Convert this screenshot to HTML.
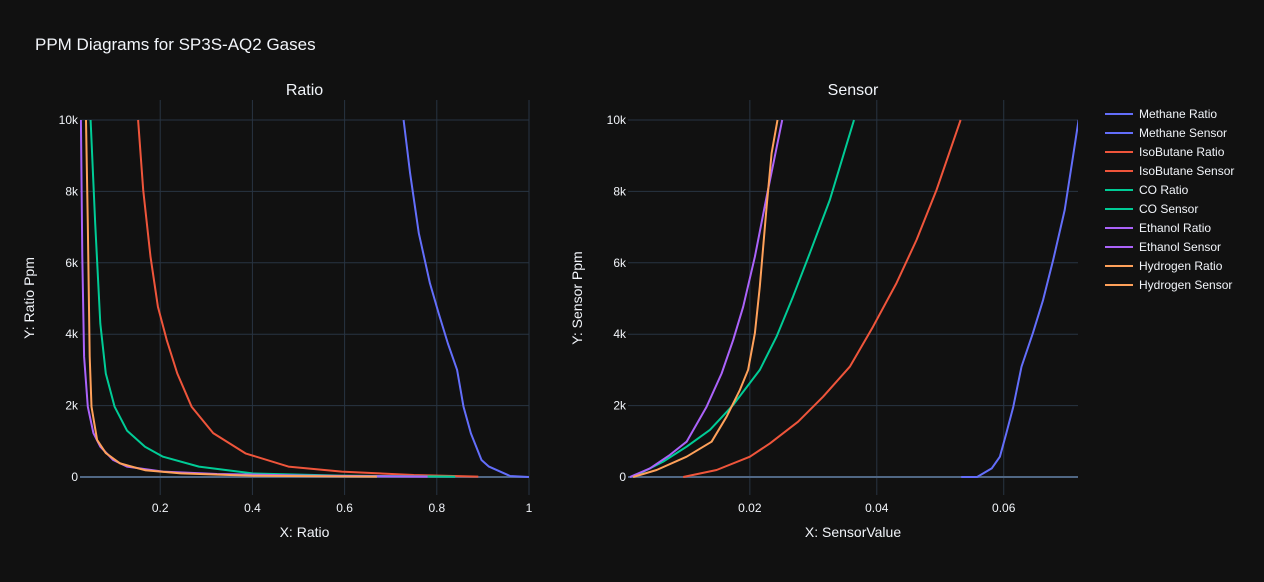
<!DOCTYPE html>
<html><head><meta charset="utf-8"><style>
body{margin:0;background:#111111;font-family:"Liberation Sans",sans-serif;}
svg text{font-family:"Liberation Sans",sans-serif;fill:#f2f5fa;}
</style></head><body>
<svg id="chart" width="1264" height="577" viewBox="0 0 1264 577" xmlns="http://www.w3.org/2000/svg">
<rect width="1264" height="577" fill="#111111"/>
<text x="35" y="50" font-size="17">PPM Diagrams for SP3S-AQ2 Gases</text>
<g id="p1"></g><g id="p2"></g><g id="legend"></g>
</svg>
<script>
const gases = ["Methane","IsoButane","CO","Ethanol","Hydrogen"];
const colors = ["#636efa","#EF553B","#00cc96","#ab63fa","#FFA15A"];
const yTicks = [0,2000,4000,6000,8000,10000];
const yTickLabels = ["0","2k","4k","6k","8k","10k"];
const x1Ticks = [0.2,0.4,0.6,0.8,1];
const x1TickLabels = ["0.2","0.4","0.6","0.8","1"];
const x2Ticks = [0.02,0.04,0.06];
const x2TickLabels = ["0.02","0.04","0.06"];
// Ratio curves
const methaneRatioX = [0.728,0.742,0.761,0.785,0.804,0.824,0.844,0.858,0.874,0.897,0.913,0.959,1.0];
const methaneRatioY = [10000,8510,6830,5430,4590,3740,3000,1970,1220,476,290,28,0];
const isoRatioX = [0.152,0.163,0.179,0.195,0.214,0.237,0.268,0.315,0.385,0.478,0.594,0.75,0.89];
const isoRatioY = [10000,8040,6170,4770,3840,2900,1970,1230,660,290,150,56,10];
const coRatioX = [0.049,0.059,0.070,0.082,0.101,0.128,0.167,0.206,0.284,0.40,0.59,0.84];
const coRatioY = [10000,7100,4300,2900,1970,1300,850,570,290,100,38,10];
const ethRatioX = [0.028,0.031,0.035,0.043,0.055,0.070,0.098,0.128,0.206,0.323,0.517,0.78];
const ethRatioY = [10000,6170,3370,1970,1230,850,476,290,150,84,38,10];
const h2RatioX = [0.039,0.043,0.047,0.051,0.063,0.082,0.113,0.167,0.245,0.40,0.67];
const h2RatioY = [10000,7100,3370,1970,1040,670,380,190,100,35,10];
// Sensor curves
const methaneSensorX = [0.0533,0.0558,0.0581,0.0594,0.0604,0.0615,0.0628,0.0646,0.0662,0.0678,0.0696,0.0709,0.0718];
const methaneSensorY = [0,0,240,570,1220,1970,3090,4030,4960,6080,7480,8960,10000];
const isoSensorX = [0.0095,0.01476,0.02,0.02315,0.0276,0.03154,0.03575,0.0394,0.0431,0.04625,0.0494,0.0532];
const isoSensorY = [0,196,570,940,1550,2250,3090,4210,5430,6640,8040,10000];
const coSensorX = [0.0016,0.00635,0.01003,0.0137,0.01737,0.02157,0.0242,0.0268,0.02945,0.0326,0.0364];
const coSensorY = [0,430,850,1320,2020,3000,3930,5050,6270,7760,10000];
const ethSensorX = [0.0011,0.00425,0.0074,0.01003,0.01318,0.01554,0.01737,0.01895,0.02079,0.02263,0.02509];
const ethSensorY = [0,240,620,990,1970,2900,3840,4770,6170,7850,10000];
const h2SensorX = [0.0016,0.0053,0.01003,0.01397,0.01633,0.01843,0.01973,0.02079,0.02157,0.02263,0.02342,0.02436];
const h2SensorY = [0,196,570,990,1690,2440,3000,4030,5330,7570,9070,10000];

const NS="http://www.w3.org/2000/svg";
function mk(tag,attrs,parent){const e=document.createElementNS(NS,tag);for(const k in attrs)e.setAttribute(k,attrs[k]);parent.appendChild(e);return e;}
const Y0=477,Y10=120;
function yS(v){return Y0+(Y10-Y0)*v/10000;}
function drawPanel(g,L,R,xmin,xmax,xt,xtl,title,xlab,ylab,series,cid){
  const xS=v=>L+(v-xmin)/(xmax-xmin)*(R-L);
  const T=100,B=495;
  const cp=mk('clipPath',{id:cid},g);mk('rect',{x:L,y:T,width:R-L,height:B-T},cp);
  xt.forEach((t,i)=>{const x=xS(t);const l=mk('line',{x1:x,x2:x,y1:T,y2:B,stroke:'#283442','stroke-width':1},g);
    
    const tx=mk('text',{x:x,y:512,'font-size':12,'text-anchor':'middle'},g);tx.textContent=xtl[i];
    });
  yTicks.forEach((t,i)=>{const y=yS(t);const l=mk('line',{x1:L,x2:R,y1:y,y2:y,stroke:t===0?'#506784':'#283442','stroke-width':t===0?2:1},g);
    
    const tx=mk('text',{x:L-2,y:y+4,'font-size':12,'text-anchor':'end'},g);tx.textContent=yTickLabels[i];
    });
  const tt=mk('text',{x:(L+R)/2,y:95,'font-size':16,'text-anchor':'middle'},g);tt.textContent=title;
  
  const xl=mk('text',{x:(L+R)/2,y:537,'font-size':14,'text-anchor':'middle'},g);xl.textContent=xlab;
  
  const yl=mk('text',{x:0,y:0,'font-size':14,'text-anchor':'middle',transform:`translate(${L-46},298) rotate(-90)`},g);yl.textContent=ylab;
  
  const sg=mk('g',{'clip-path':`url(#${cid})`},g);
  series.forEach(s=>{const d=s.x.map((v,i)=>(i?'L':'M')+xS(v).toFixed(1)+','+yS(s.y[i]).toFixed(1)).join('');
    const p=mk('path',{d:d,fill:'none',stroke:s.c,'stroke-width':2,'stroke-linejoin':'round'},sg);
    });
}
drawPanel(document.getElementById('p1'),80,529,0.026,1.0,x1Ticks,x1TickLabels,'Ratio','X: Ratio','Y: Ratio Ppm',[
 {x:methaneRatioX,y:methaneRatioY,c:colors[0],n:'methane-ratio-line'},
 {x:isoRatioX,y:isoRatioY,c:colors[1],n:'isobutane-ratio-line'},
 {x:coRatioX,y:coRatioY,c:colors[2],n:'co-ratio-line'},
 {x:ethRatioX,y:ethRatioY,c:colors[3],n:'ethanol-ratio-line'},
 {x:h2RatioX,y:h2RatioY,c:colors[4],n:'hydrogen-ratio-line'}],'c1');
drawPanel(document.getElementById('p2'),628,1078,0.0008,0.0717,x2Ticks,x2TickLabels,'Sensor','X: SensorValue','Y: Sensor Ppm',[
 {x:methaneSensorX,y:methaneSensorY,c:colors[0],n:'methane-sensor-line'},
 {x:isoSensorX,y:isoSensorY,c:colors[1],n:'isobutane-sensor-line'},
 {x:coSensorX,y:coSensorY,c:colors[2],n:'co-sensor-line'},
 {x:ethSensorX,y:ethSensorY,c:colors[3],n:'ethanol-sensor-line'},
 {x:h2SensorX,y:h2SensorY,c:colors[4],n:'hydrogen-sensor-line'}],'c2');
const lg=document.getElementById('legend');
let k=0;
gases.forEach((gname,i)=>{["Ratio","Sensor"].forEach(kind=>{
  const y=114+k*19;k++;
  const l=mk('line',{x1:1105,x2:1133,y1:y,y2:y,stroke:colors[i],'stroke-width':2},lg);
  
  const t=mk('text',{x:1139,y:y+4,'font-size':12},lg);t.textContent=gname+' '+kind;
  
});});
</script>
</body></html>
